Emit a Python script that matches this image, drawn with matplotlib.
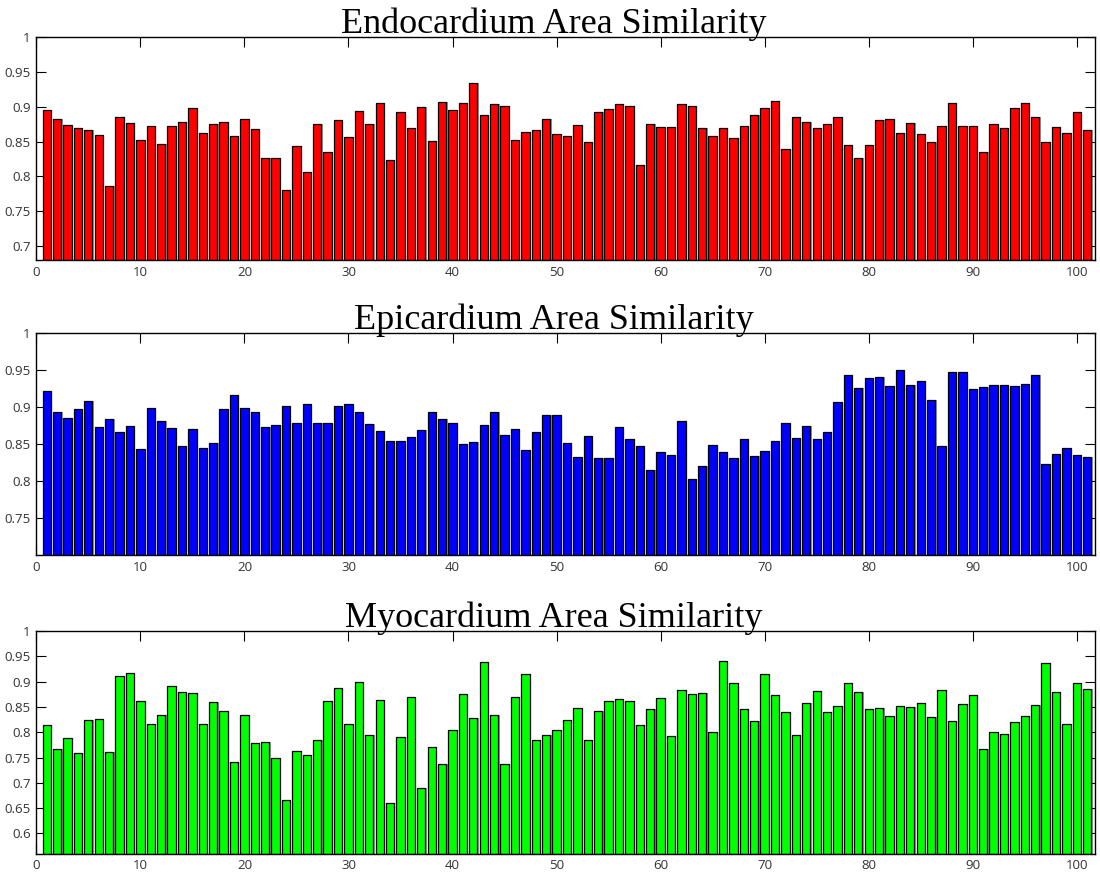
import numpy as np
import matplotlib
matplotlib.use("Agg")
import matplotlib.pyplot as plt

# similarity per case (1..101)
endo = [0.895, 0.882, 0.874, 0.870, 0.867, 0.859, 0.786, 0.886, 0.877, 0.853,
        0.872, 0.847, 0.872, 0.878, 0.899, 0.863, 0.876, 0.878, 0.858, 0.882,
        0.868, 0.826, 0.827, 0.780, 0.844, 0.806, 0.875, 0.835, 0.881, 0.857,
        0.894, 0.875, 0.906, 0.823, 0.892, 0.869, 0.900, 0.851, 0.907, 0.895,
        0.905, 0.934, 0.888, 0.904, 0.901, 0.853, 0.864, 0.867, 0.882, 0.861,
        0.858, 0.874, 0.850, 0.893, 0.897, 0.904, 0.902, 0.817, 0.876, 0.871,
        0.871, 0.904, 0.901, 0.870, 0.858, 0.869, 0.855, 0.873, 0.889, 0.899,
        0.909, 0.840, 0.885, 0.878, 0.870, 0.875, 0.886, 0.845, 0.826, 0.845,
        0.881, 0.882, 0.862, 0.877, 0.861, 0.849, 0.872, 0.906, 0.872, 0.873,
        0.835, 0.876, 0.870, 0.899, 0.905, 0.886, 0.849, 0.871, 0.863, 0.893,
        0.867]

epi = [0.922, 0.894, 0.885, 0.897, 0.908, 0.873, 0.884, 0.866, 0.874, 0.844,
       0.899, 0.881, 0.872, 0.848, 0.870, 0.845, 0.852, 0.898, 0.916, 0.899,
       0.893, 0.873, 0.876, 0.901, 0.879, 0.905, 0.878, 0.878, 0.901, 0.905,
       0.894, 0.877, 0.868, 0.854, 0.854, 0.860, 0.869, 0.894, 0.884, 0.879,
       0.850, 0.853, 0.876, 0.893, 0.863, 0.870, 0.842, 0.867, 0.890, 0.890,
       0.852, 0.832, 0.861, 0.831, 0.831, 0.873, 0.857, 0.848, 0.815, 0.840,
       0.836, 0.881, 0.803, 0.820, 0.849, 0.839, 0.831, 0.857, 0.834, 0.841,
       0.854, 0.878, 0.859, 0.875, 0.857, 0.866, 0.907, 0.943, 0.926, 0.939,
       0.941, 0.929, 0.951, 0.930, 0.936, 0.910, 0.848, 0.948, 0.947, 0.924,
       0.928, 0.930, 0.930, 0.929, 0.931, 0.943, 0.823, 0.837, 0.845, 0.835,
       0.832]

myo = [0.814, 0.766, 0.789, 0.759, 0.824, 0.826, 0.761, 0.911, 0.917, 0.862,
       0.816, 0.833, 0.892, 0.879, 0.878, 0.816, 0.859, 0.841, 0.741, 0.833,
       0.778, 0.781, 0.750, 0.667, 0.762, 0.755, 0.785, 0.861, 0.887, 0.816,
       0.899, 0.795, 0.864, 0.661, 0.790, 0.869, 0.689, 0.770, 0.737, 0.804,
       0.875, 0.828, 0.939, 0.833, 0.737, 0.870, 0.915, 0.784, 0.794, 0.804,
       0.824, 0.847, 0.784, 0.841, 0.862, 0.866, 0.862, 0.815, 0.845, 0.868,
       0.792, 0.883, 0.876, 0.877, 0.801, 0.940, 0.897, 0.845, 0.822, 0.915,
       0.874, 0.839, 0.795, 0.857, 0.882, 0.840, 0.851, 0.897, 0.880, 0.845,
       0.848, 0.832, 0.851, 0.849, 0.857, 0.830, 0.884, 0.822, 0.855, 0.874,
       0.766, 0.800, 0.797, 0.820, 0.832, 0.854, 0.936, 0.880, 0.816, 0.897,
       0.885]

titles = ["Endocardium Area Similarity", "Epicardium Area Similarity",
          "Myocardium Area Similarity"]
colors = ["#ff0000", "#0000ff", "#00ff00"]
ymins = [0.68, 0.70, 0.56]
ytick_lists = [[0.7, 0.75, 0.8, 0.85, 0.9, 0.95, 1],
               [0.75, 0.8, 0.85, 0.9, 0.95, 1],
               [0.6, 0.65, 0.7, 0.75, 0.8, 0.85, 0.9, 0.95, 1]]

fig = plt.figure(figsize=(11, 8.76), dpi=100)
# [left, bottom, width, height] in figure fractions
boxes = [[0.033, 0.7032, 0.962, 0.2542],
         [0.033, 0.3664, 0.962, 0.2531],
         [0.033, 0.0255, 0.962, 0.2542]]

for k, data in enumerate([endo, epi, myo]):
    ax = fig.add_axes(boxes[k])
    x = np.arange(1, len(data) + 1)
    base = ymins[k]
    h = np.array(data) - base
    # light grey shadow on the right side of each bar
    ax.bar(x + 0.12, h, width=0.8, bottom=base, color="#999999",
           edgecolor="none", zorder=1)
    ax.bar(x, h, width=0.8, bottom=base, color=colors[k],
           edgecolor="black", linewidth=0.9, zorder=2)
    ax.set_xlim(0, 101.7)
    ax.set_ylim(base, 1)
    ax.set_xticks(range(0, 101, 10))
    ax.set_yticks(ytick_lists[k])
    ax.set_yticklabels([("%g" % v) for v in ytick_lists[k]])
    ax.tick_params(direction="in", length=7, width=0.8, top=True, right=True,
                   labelsize=9.5, labelcolor="#333333", pad=4)
    for lab in ax.get_xticklabels() + ax.get_yticklabels():
        lab.set_family("Open Sans")
    for s in ax.spines.values():
        s.set_linewidth(1.0)
    ax.set_title(titles[k], fontsize=26, family="Liberation Serif",
                 x=0.489, pad=3)

plt.savefig("out.png", dpi=100)
